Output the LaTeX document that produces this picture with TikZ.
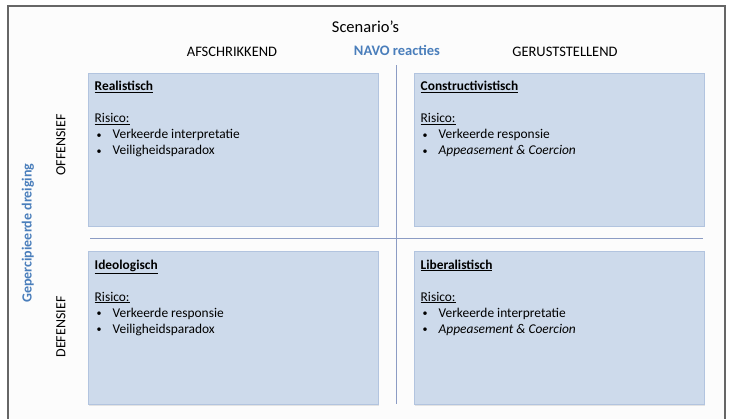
\documentclass[tikz,border=0pt]{standalone}
\usepackage{fontspec}
\setmainfont{Carlito}
\usetikzlibrary{positioning,shadows}

\definecolor{quadfill}{HTML}{CDDAEB}
\definecolor{quadline}{HTML}{B2C4DF}
\definecolor{navoblue}{HTML}{4A7EBB}
\definecolor{axisline}{HTML}{8C9CC4}
\definecolor{framegray}{HTML}{666666}

\tikzset{
  quad/.style={draw=quadline, fill=quadfill, line width=1pt, rectangle,
    minimum width=290pt, minimum height=153pt, inner sep=0pt,
    drop shadow={shadow xshift=1pt, shadow yshift=-1pt, opacity=0.2}},
  quadtext/.style={anchor=north west, align=left, inner sep=0pt,
    font=\fontsize{13.4}{16}\selectfont},
  head/.style={font=\fontsize{14.5}{16}\selectfont},
  side/.style={font=\fontsize{14}{15}\selectfont, rotate=90}
}
\newcommand{\bul}[1]{\makebox[18pt][l]{\hspace{2pt}\raisebox{0.6pt}{\scalebox{0.75}{\textbullet}}}#1}

\begin{document}
\begin{tikzpicture}[x=1pt, y=-1pt]
    \useasboundingbox (0,0) rectangle (731,418);
    \fill[white] (0,0) rectangle (731,418);
    \draw[framegray, line width=1.4pt, fill={rgb,255:red,252;green,252;blue,252}] (8,6) rectangle (725,430);

    % Axes
    \coordinate (vtop) at (396.5,65);
    \coordinate (vbot) at (396.5,404);
    \coordinate (hleft) at (90,238);
    \coordinate (hright) at (703,238);
    \draw[axisline, line width=0.9pt] (vtop) -- (vbot);
    \draw[axisline, line width=0.9pt] (hleft) -- (hright);

    % Headings
    \node (title) at (365.5,27) {\fontsize{16.5}{18}\selectfont Scenario's};
    \node (navo) at (397,50) [head, text=navoblue] {\bfseries NAVO reacties};
    \node (afs) at (232,52) [head] {AFSCHRIKKEND};
    \node (ger) at (565,52) [head] {GERUSTSTELLEND};
    \node (dreig) at (28,233) [side, text=navoblue] {\bfseries Gepercipieerde dreiging};
    \node (off) at (61,145) [side] {OFFENSIEF};
    \node (def) at (61,327) [side] {DEFENSIEF};

    % Quadrants
    \node (rea) at (233,149.5) [quad] {};
    \node (con) at (559,149.5) [quad] {};
    \node (ideo) at (233,328) [quad] {};
    \node (lib) at (559,328) [quad] {};

    % Texts
    \node (reatxt) [quadtext] at ([xshift=7pt,yshift=-8.5pt]rea.north west) {%
      \textbf{\underline{Realistisch}}\\[16pt]
      \underline{Risico:}\\
      \bul{Verkeerde interpretatie}\\
      \bul{Veiligheidsparadox}};
    \node (contxt) [quadtext] at ([xshift=7pt,yshift=-8.5pt]con.north west) {%
      \textbf{\underline{Constructivistisch}}\\[16pt]
      \underline{Risico:}\\
      \bul{Verkeerde responsie}\\
      \bul{\itshape Appeasement \& Coercion}};
    \node (ideotxt) [quadtext] at ([xshift=7pt,yshift=-8.5pt]ideo.north west) {%
      \textbf{\underline{Ideologisch}}\\[16pt]
      \underline{Risico:}\\
      \bul{Verkeerde responsie}\\
      \bul{Veiligheidsparadox}};
    \node (libtxt) [quadtext] at ([xshift=7pt,yshift=-8.5pt]lib.north west) {%
      \textbf{\underline{Liberalistisch}}\\[16pt]
      \underline{Risico:}\\
      \bul{Verkeerde interpretatie}\\
      \bul{\itshape Appeasement \& Coercion}};
\end{tikzpicture}
\end{document}
